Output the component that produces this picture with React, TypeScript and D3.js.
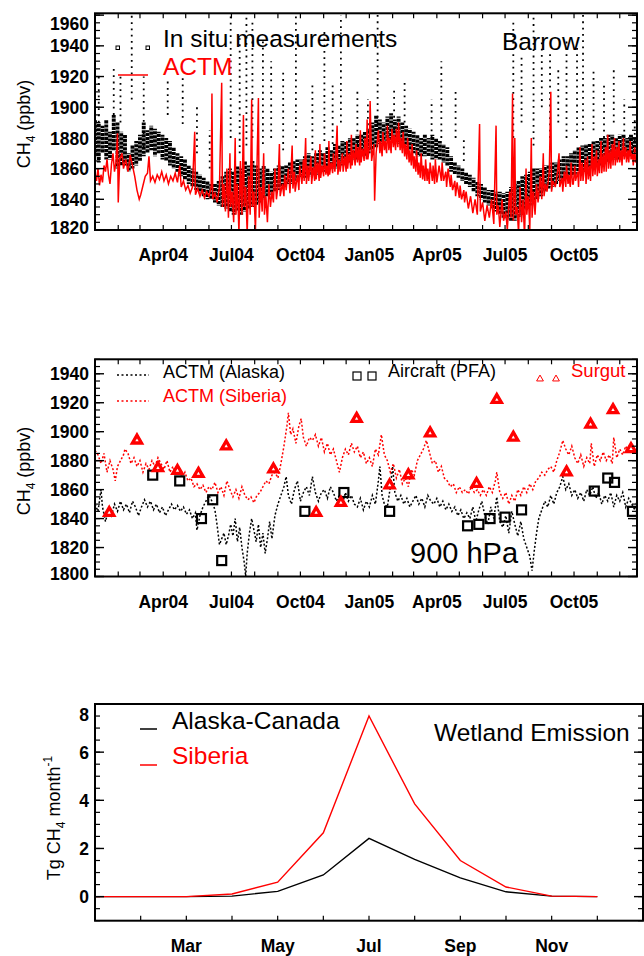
import React from 'react';
import * as d3 from 'd3';

const FONT = '"Liberation Sans", Arial, Helvetica, sans-serif';
const START = new Date(Date.UTC(2004, 0, 1));
const END = new Date(Date.UTC(2005, 11, 24));

// ---- panel 1: Barrow, days since 1 Jan 2004
const barrowActm: [number, number][] = [
  [0,1857],[2,1852],[4,1860],[6,1849],[8,1856],[10,1851],[12,1862],[14,1858],[16,1866],[18,1856],[20,1850],[22,1863],[24,1870],[26,1858],[28,1864],[30,1883],[31,1838],[33,1866],[36,1870],[38,1860],[41,1866],[44,1858],[47,1869],[50,1862],[53,1855],[56,1846],[59,1840],[61,1843],[64,1849],[67,1855],[70,1857],[72,1868],[74,1852],[77,1855],[80,1851],[83,1856],[86,1853],[89,1858],[92,1852],[95,1856],[98,1850],[101,1855],[104,1852],[107,1857],[110,1851],[113,1862],[115,1848],[118,1852],[121,1846],[124,1849],[127,1844],[130,1848],[133,1884],[134,1843],[137,1847],[140,1842],[143,1846],[146,1841],[149,1845],[152,1842],[155,1848],[156,1909],[157,1840],[160,1844],[163,1838],[166,1848],[169,1916],[170,1835],[172,1850],[174,1832],[176,1860],[178,1828],[180,1870],[181,1835],[183,1845],[185,1825],[187,1880],[188,1830],[190,1850],[192,1818],[194,1865],[196,1830],[198,1895],[199,1835],[201,1848],[203,1818],[205,1855],[207,1830],[209,1905],[210,1835],[212,1845],[214,1820],[216,1860],[218,1906],[219,1828],[221,1848],[223,1832],[225,1870],[226,1830],[228,1842],[230,1825],[232,1850],[234,1835],[236,1845],[238,1838],[240,1860],[242,1840],[244,1848],[246,1876],[247,1842],
  [250,1850],[252,1842],[253,1856],[255,1846],[258,1860],[260,1844],[261,1853],[263,1875],[264,1847],[266,1858],[267,1845],[270,1856],[272,1846],[273,1862],[276,1850],[278,1866],[279,1852],[281,1880],[282,1850],[284,1862],[285,1852],[288,1868],[289,1850],[291,1861],[293,1852],[294,1872],[295,1853],[297,1864],[299,1852],[300,1876],[301,1854],[303,1862],[305,1855],[306,1870],[308,1856],[309,1862],[311,1855],[312,1878],[313,1856],[315,1864],[317,1857],[318,1870],[320,1858],[321,1866],[323,1888],[324,1856],[326,1866],[327,1858],[330,1870],[331,1858],[333,1868],[335,1858],[336,1878],[337,1860],[339,1870],[341,1860],[342,1882],[343,1862],[345,1872],[347,1862],[348,1876],[350,1864],[351,1874],[353,1862],[354,1885],[355,1864],[357,1873],[359,1865],[360,1880],[362,1866],[363,1892],[364,1866],[366,1874],
  [367,1904],[369,1865],[372,1876],[373,1839],[375,1870],[378,1885],[380,1870],[381,1878],[383,1868],[384,1884],[386,1872],[387,1878],[389,1870],[390,1888],[392,1872],[393,1880],[395,1870],[396,1886],[398,1874],[399,1882],[401,1872],[402,1886],[404,1874],[405,1890],[407,1872],[408,1880],[410,1870],[411,1884],[413,1868],[414,1876],[416,1866],[417,1880],[419,1864],[420,1872],[422,1862],[423,1876],[425,1860],[426,1868],[428,1858],[429,1872],[431,1856],[432,1864],[434,1854],[435,1870],[437,1853],[438,1862],[440,1852],[441,1866],[443,1852],[444,1860],[446,1850],[447,1864],[450,1852],[451,1862],[453,1850],[454,1866],[456,1851],[459,1862],[462,1852],[463,1864],[465,1852],[468,1858],[469,1848],[471,1860],[474,1848],[475,1856],[477,1846],[480,1852],[481,1842],[483,1851],[486,1841],[487,1849],[489,1840],[492,1846],[493,1838],[495,1845],[498,1834],[501,1842],[504,1831],[507,1840],[510,1830],[513,1889],[514,1832],[517,1838],[520,1826],[523,1836],[526,1828],[529,1840],[532,1824],[535,1888],[536,1830],[538,1836],[540,1822],[543,1840],[545,1826],[548,1832],[550,1820],[553,1845],[555,1828],[557,1909],[558,1826],[560,1880],[561,1830],[563,1835],[565,1818],[567,1848],[569,1825],[571,1840],[573,1815],[575,1860],[576,1830],[578,1842],[580,1820],[582,1880],[583,1828],[585,1845],[587,1830],[589,1850],[591,1838],[594,1855],[596,1840],[598,1870],[599,1842],[601,1850],[603,1845],[606,1858],[608,1910],[609,1845],[611,1852],[614,1848],[617,1858],[619,1870],[620,1848],[623,1854],[624,1845],[626,1858],[628,1848],[629,1862],[631,1850],[632,1856],[634,1848],[635,1864],[637,1850],
  [638,1850],[640,1862],[641,1852],[644,1858],[645,1848],[647,1874],[648,1852],[650,1864],[651,1852],[654,1866],[655,1850],[657,1868],[658,1853],[660,1862],[661,1852],[663,1876],[664,1855],[666,1868],[667,1856],[669,1872],[670,1855],[672,1866],[673,1857],[675,1878],[676,1857],[678,1870],[679,1858],[681,1874],[682,1858],[684,1882],[685,1860],[687,1872],[688,1860],[690,1876],[691,1862],[693,1880],[694,1862],[696,1874],[697,1864],[699,1878],[700,1864],[702,1872],[703,1862],[705,1880],[706,1866],[708,1874],[709,1864],[711,1872],[712,1864],[714,1878],[715,1866],[717,1870],[718,1862],[720,1874],[721,1864],[723,1868],
];

// dense part of the hourly in situ record: [day, low, high]
const insituBand: [number, number, number][] = [
  [0,1868,1892],[5,1864,1890],[10,1870,1888],[15,1866,1892],[20,1866,1884],[25,1872,1895],[30,1860,1890],[35,1862,1884],[40,1862,1882],[45,1858,1870],[50,1860,1875],[55,1862,1878],
  [60,1865,1882],[65,1868,1890],[70,1870,1885],[75,1872,1888],[80,1868,1886],[85,1870,1884],[90,1866,1882],[95,1865,1880],[100,1862,1878],[105,1860,1874],[110,1858,1870],[115,1855,1868],
  [120,1853,1866],[125,1850,1862],[130,1848,1860],[135,1846,1858],[140,1844,1856],[145,1842,1854],[150,1840,1852],[155,1840,1850],[160,1838,1850],[165,1836,1852],[170,1835,1855],[175,1834,1858],
  [180,1832,1860],[185,1830,1858],[190,1832,1862],[195,1830,1860],[200,1832,1865],[205,1834,1862],[210,1835,1865],[215,1836,1862],[220,1838,1860],[225,1840,1862],[230,1842,1860],[235,1843,1858],
  [240,1845,1860],[245,1846,1862],[250,1848,1862],[255,1850,1862],[260,1850,1864],[265,1852,1865],[270,1852,1866],[275,1854,1866],[280,1854,1868],[285,1855,1870],[290,1856,1868],[295,1856,1870],
  [300,1857,1872],[305,1858,1870],[310,1858,1874],[315,1860,1872],[320,1860,1876],[325,1862,1875],[330,1862,1878],[335,1864,1878],[340,1864,1880],[345,1866,1880],[350,1866,1882],[355,1868,1882],
  [360,1868,1884],[365,1870,1886],[370,1872,1890],[375,1874,1895],[380,1876,1892],[385,1876,1890],[390,1878,1894],[395,1878,1896],[400,1878,1892],[405,1876,1894],[410,1875,1890],[415,1874,1888],
  [420,1872,1886],[425,1870,1884],[430,1868,1882],[435,1868,1880],[440,1868,1882],[445,1868,1880],[450,1866,1882],[455,1866,1880],[460,1866,1878],[465,1864,1876],[470,1862,1874],[475,1858,1868],
  [480,1856,1864],[485,1854,1862],[490,1852,1860],[495,1850,1858],[500,1848,1856],[505,1845,1854],[510,1842,1852],[515,1840,1850],[520,1838,1848],[525,1836,1846],[530,1834,1846],[535,1832,1845],
  [540,1830,1845],[545,1828,1844],[550,1827,1845],[555,1826,1848],[560,1826,1850],[565,1828,1852],[570,1830,1855],[575,1833,1856],[580,1836,1858],[585,1838,1860],[590,1840,1860],[595,1842,1860],
  [600,1845,1862],[605,1847,1862],[610,1848,1864],[615,1850,1864],[620,1852,1866],[625,1853,1868],[630,1854,1868],[635,1855,1870],[640,1856,1872],[645,1857,1874],[650,1858,1875],[655,1858,1876],
  [660,1860,1876],[665,1860,1878],[670,1862,1878],[675,1862,1880],[680,1864,1880],[685,1864,1882],[690,1866,1882],[695,1866,1880],[700,1866,1882],[705,1868,1882],[710,1868,1880],[715,1868,1882],[720,1870,1880],
];

// sparse high excursions of the in situ record: [day, low, high]
const insituSpread: [number, number, number][] = [
  [5,1890,1922],[25,1895,1925],[34,1890,1920],[49,1905,1965],[65,1870,1920],[97,1895,1918],[117,1889,1920],[136,1870,1900],[153,1860,1885],
  [181,1880,1965],[193,1870,1945],[202,1875,1962],[210,1880,1955],[224,1876,1945],[235,1880,1930],[251,1872,1925],[268,1880,1960],[290,1872,1915],
  [306,1878,1950],[317,1876,1915],[328,1890,1960],[350,1876,1912],[364,1876,1905],[377,1885,1965],[399,1885,1912],[413,1890,1918],[449,1872,1905],
  [462,1880,1930],[481,1880,1912],[492,1865,1880],[558,1880,1955],[569,1890,1935],[585,1875,1960],[596,1900,1945],[607,1880,1935],[618,1890,1925],
  [629,1880,1945],[643,1880,1940],[651,1885,1962],[665,1885,1925],[679,1880,1915],[692,1890,1925],[706,1880,1905],[720,1878,1892],
];

const topTicks = [1820, 1840, 1860, 1880, 1900, 1920, 1940, 1960];
const timeTickLabels = ['Apr04', 'Jul04', 'Oct04', 'Jan05', 'Apr05', 'Jul05', 'Oct05'];

// ---- panel 2: 900 hPa
const actmAlaska: [number, number][] = [
  [0,1850],[4,1845],[8,1860],[10,1848],[14,1838],[18,1846],[22,1842],[26,1850],[30,1845],[34,1852],[38,1846],[42,1850],[46,1844],[50,1852],[54,1848],[58,1842],[62,1848],[66,1853],[70,1848],[74,1852],[78,1846],[82,1850],[86,1844],[90,1848],[94,1842],[98,1846],[102,1850],[106,1846],[110,1849],[114,1845],[118,1848],[122,1843],[126,1846],[130,1840],[134,1844],[136,1832],[140,1842],[144,1848],[148,1852],[152,1856],[156,1852],[160,1846],[163,1835],[166,1822],[169,1826],[172,1830],[175,1822],[178,1828],[181,1836],[184,1828],[187,1840],[190,1824],[193,1834],[196,1820],[199,1810],[201,1800],[203,1816],[206,1830],[209,1840],[212,1832],[215,1824],[218,1836],[221,1820],[224,1830],[227,1816],[230,1826],[233,1838],[236,1826],[240,1842],[244,1850],[248,1856],[252,1862],[255,1869],[258,1856],[262,1850],[266,1860],[270,1866],[274,1852],[278,1858],[282,1862],[286,1856],[290,1869],[294,1858],[298,1852],[302,1858],[306,1860],[310,1854],[314,1862],[318,1858],[322,1852],[326,1856],[330,1850],[334,1858],[338,1852],[342,1856],[346,1850],[350,1848],[354,1854],[358,1846],[362,1852],[366,1848],[370,1856],[374,1850],[378,1866],[380,1876],[383,1856],[386,1850],[390,1848],[394,1862],[397,1876],[400,1858],[404,1852],[408,1856],[412,1850],[416,1854],[420,1848],[424,1852],[428,1856],[432,1850],[436,1854],[440,1848],[444,1856],[448,1852],[452,1850],[456,1854],[460,1848],[464,1852],[468,1846],[472,1850],[476,1845],[480,1848],[484,1842],[488,1846],[492,1840],[496,1844],[500,1840],[504,1848],[508,1838],[512,1846],[516,1852],[520,1842],[524,1836],[528,1848],[532,1840],[536,1855],[540,1838],[544,1834],[548,1842],[552,1830],[556,1845],[560,1836],[564,1828],[568,1838],[572,1826],[576,1820],[580,1814],[583,1804],[586,1818],[589,1830],[592,1840],[596,1846],[600,1852],[604,1848],[608,1856],[612,1850],[616,1858],[620,1862],[624,1869],[628,1860],[632,1864],[636,1856],[640,1860],[644,1854],[648,1858],[652,1852],[656,1860],[660,1856],[664,1862],[668,1854],[672,1858],[676,1850],[680,1856],[684,1852],[688,1858],[692,1848],[696,1856],[700,1852],[704,1858],[708,1848],[712,1854],[716,1850],[720,1846],[723,1852],
];
const actmSiberia: [number, number][] = [
  [0,1887],[4,1884],[8,1878],[12,1885],[16,1872],[20,1880],[24,1874],[27,1866],[30,1876],[34,1880],[38,1884],[40,1888],[44,1885],[48,1878],[52,1882],[56,1876],[60,1880],[64,1872],[68,1878],[72,1874],[76,1880],[80,1876],[84,1882],[88,1878],[92,1874],[96,1880],[100,1872],[104,1876],[108,1870],[112,1874],[116,1868],[120,1872],[124,1866],[128,1868],[132,1862],[136,1864],[140,1860],[144,1863],[148,1858],[152,1862],[156,1860],[160,1865],[164,1858],[168,1862],[172,1856],[176,1866],[180,1860],[184,1855],[188,1860],[192,1854],[196,1862],[200,1856],[204,1853],[208,1855],[212,1851],[216,1856],[220,1858],[224,1862],[228,1866],[232,1864],[236,1870],[240,1872],[244,1868],[248,1878],[252,1890],[256,1904],[258,1913],[261,1898],[264,1902],[268,1892],[272,1904],[275,1909],[278,1896],[282,1890],[286,1896],[290,1894],[294,1898],[298,1890],[302,1896],[306,1886],[310,1892],[314,1884],[318,1888],[322,1880],[326,1872],[330,1882],[334,1888],[338,1884],[342,1892],[346,1886],[350,1890],[354,1882],[358,1886],[362,1878],[366,1882],[370,1876],[374,1888],[378,1884],[382,1898],[386,1884],[390,1880],[394,1872],[398,1878],[402,1868],[406,1874],[410,1864],[414,1868],[418,1862],[422,1874],[426,1870],[430,1880],[434,1884],[438,1888],[442,1894],[446,1886],[450,1878],[454,1880],[458,1872],[462,1876],[466,1868],[470,1866],[474,1862],[478,1864],[482,1858],[486,1862],[490,1858],[494,1860],[498,1857],[502,1862],[506,1858],[510,1860],[514,1856],[518,1860],[522,1856],[526,1862],[530,1858],[534,1866],[536,1872],[540,1858],[544,1854],[548,1858],[552,1850],[556,1856],[560,1852],[564,1860],[568,1856],[572,1862],[576,1858],[580,1864],[584,1860],[588,1866],[592,1868],[596,1872],[600,1870],[604,1874],[608,1876],[612,1872],[616,1880],[620,1886],[624,1894],[628,1888],[632,1884],[636,1890],[640,1882],[644,1878],[648,1884],[652,1876],[656,1882],[660,1878],[662,1892],[666,1876],[670,1884],[674,1880],[678,1886],[682,1880],[686,1884],[690,1878],[692,1896],[696,1882],[700,1888],[704,1884],[708,1890],[712,1886],[716,1892],[720,1888],[723,1890],
];
const aircraftPfa: [number, number][] = [
  [77,1870],[113,1866],[142,1840],[157,1853],[169,1811],[280,1845],[332,1858],[393,1845],[497,1835],[512,1836],[527,1840],[547,1841],[569,1846],[666,1859],[684,1868],[693,1865],[717,1845],
];
const surgut: [number, number][] = [
  [19,1844],[56,1894],[84,1875],[110,1873],[138,1871],[175,1890],[238,1874],[295,1844],[328,1851],[349,1909],[393,1863],[418,1870],[447,1899],[509,1864],[536,1922],[558,1896],[629,1872],[661,1905],[691,1915],[715,1888],
];
const midTicks = [1800, 1820, 1840, 1860, 1880, 1900, 1920, 1940];

// ---- panel 3: wetland emission, month index 1..12
const months = [1, 2, 3, 4, 5, 6, 7, 8, 9, 10, 11, 12];
const emisAlaskaCanada = [0, 0, 0, 0.02, 0.22, 0.9, 2.42, 1.55, 0.78, 0.2, 0.02, 0];
const emisSiberia = [0, 0, 0, 0.11, 0.6, 2.65, 7.5, 3.85, 1.5, 0.4, 0.02, 0];
const emisTicks = [0, 2, 4, 6, 8];
const monthLabels = ['Mar', 'May', 'Jul', 'Sep', 'Nov'];

const dayDate = (d: number) => d3.utcDay.offset(START, d);
const parseTick = d3.utcParse('%b%y');

const xT = d3.scaleUtc().domain([START, END]).range([95, 637]);
const monthTicks = d3.utcMonth.range(d3.utcMonth.offset(START, 1), END);

type Box = { x0: number; x1: number; y0: number; y1: number };

function YTicks({ box, y, major, minor, clampTop = 10, clampBot = 3 }: any) {
  const { x0, x1, y0, y1 } = box as Box;
  return (
    <g>
      {minor.map((v: number) => (
        <g key={'m' + v} stroke="#000" strokeWidth={1.2}>
          <line x1={x0} x2={x0 + 5} y1={y(v)} y2={y(v)} />
          <line x1={x1} x2={x1 - 5} y1={y(v)} y2={y(v)} />
        </g>
      ))}
      {major.map((v: number) => (
        <g key={'M' + v}>
          <line x1={x0} x2={x0 + 9} y1={y(v)} y2={y(v)} stroke="#000" strokeWidth={1.4} />
          <line x1={x1} x2={x1 - 9} y1={y(v)} y2={y(v)} stroke="#000" strokeWidth={1.4} />
          <text x={x0 - 6} y={Math.min(Math.max(y(v), y0 + clampTop), y1 - clampBot)} dy="0.38em"
            textAnchor="end" fontFamily={FONT} fontWeight="bold" fontSize={17.5}>{v}</text>
        </g>
      ))}
    </g>
  );
}

function TimeAxis({ box }: { box: Box }) {
  const { y0, y1 } = box;
  return (
    <g>
      {monthTicks.map((m, i) => (
        <g key={i} stroke="#000" strokeWidth={1.2}>
          <line x1={xT(m)} x2={xT(m)} y1={y1} y2={y1 - 5} />
          <line x1={xT(m)} x2={xT(m)} y1={y0} y2={y0 + 5} />
        </g>
      ))}
      {timeTickLabels.map((s) => (
        <text key={s} x={xT(parseTick(s) as Date)} y={y1 + 31} textAnchor="middle"
          fontFamily={FONT} fontWeight="bold" fontSize={17.5}>{s}</text>
      ))}
    </g>
  );
}

function YTitle({ x, y, children }: any) {
  return (
    <text transform={`translate(${x},${y}) rotate(-90)`} textAnchor="middle" fontFamily={FONT} fontSize={18}>
      {children}
    </text>
  );
}

function BarrowPanel() {
  const box: Box = { x0: 95, x1: 637, y0: 13.3, y1: 230 };
  const y = d3.scaleLinear().domain([1820, 1961.2]).range([box.y1, box.y0]);
  const line = d3.line<[number, number]>().x((d) => xT(dayDate(d[0]))).y((d) => y(d[1]));
  return (
    <g>
      <clipPath id="clipA"><rect x={box.x0} y={box.y0} width={box.x1 - box.x0} height={box.y1 - box.y0} /></clipPath>
      <g clipPath="url(#clipA)">
        {insituSpread.map(([d, lo, hi], i) => (
          <line key={'s' + i} x1={xT(dayDate(d))} x2={xT(dayDate(d))} y1={y(lo)} y2={y(hi)}
            stroke="#000" strokeWidth={1.8} strokeDasharray="1.8,4.5" />
        ))}
        {insituBand.map(([d, lo, hi], i) => (
          <line key={'b' + i} x1={xT(dayDate(d))} x2={xT(dayDate(d))} y1={y(lo)} y2={y(hi)}
            stroke="#000" strokeWidth={3.9} strokeDasharray="3.2,0.9" strokeDashoffset={(i * 1.7) % 4.1} />
        ))}
        <path d={line(barrowActm) || ''} fill="none" stroke="#ff0000" strokeWidth={1.5} />
      </g>
      <rect x={box.x0} y={box.y0} width={box.x1 - box.x0} height={box.y1 - box.y0} fill="none" stroke="#000" strokeWidth={2} />
      <YTicks box={box} y={y} major={topTicks} minor={d3.range(1820, 1961, 5)} />
      <TimeAxis box={box} />
      <YTitle x={30} y={124}>CH<tspan fontSize={12} dy={5}>4</tspan><tspan dy={-5}> (ppbv)</tspan></YTitle>
      <rect x={116} y={46} width={3.5} height={3.5} fill="none" stroke="#000" strokeWidth={1} />
      <rect x={146} y={46} width={3.5} height={3.5} fill="none" stroke="#000" strokeWidth={1} />
      <text x={163} y={47} fontFamily={FONT} fontSize={24.5}>In situ measurements</text>
      <text x={502} y={50} fontFamily={FONT} fontSize={24.5}>Barrow</text>
      <line x1={118} x2={148} y1={75} y2={75} stroke="#ff0000" strokeWidth={1.5} />
      <text x={163} y={75} fontFamily={FONT} fontSize={24.5} fill="#ff0000">ACTM</text>
    </g>
  );
}

function MidPanel() {
  const box: Box = { x0: 95, x1: 637, y0: 359.3, y1: 576.5 };
  const y = d3.scaleLinear().domain([1800, 1950]).range([box.y1, box.y0]);
  const line = d3.line<[number, number]>().x((d) => xT(dayDate(d[0]))).y((d) => y(d[1]));
  const tri = d3.symbol().type(d3.symbolTriangle).size(64)() || '';
  const triInner = d3.symbol().type(d3.symbolTriangle).size(5)() || '';
  const triSmall = d3.symbol().type(d3.symbolTriangle).size(20)() || '';
  return (
    <g>
      <clipPath id="clipB"><rect x={box.x0} y={box.y0} width={box.x1 - box.x0} height={box.y1 - box.y0} /></clipPath>
      <g clipPath="url(#clipB)">
        <path d={line(actmAlaska) || ''} fill="none" stroke="#000" strokeWidth={1.5} strokeDasharray="2,2" />
        <path d={line(actmSiberia) || ''} fill="none" stroke="#ff0000" strokeWidth={1.5} strokeDasharray="2,2" />
        {aircraftPfa.map(([d, v], i) => (
          <rect key={'a' + i} x={xT(dayDate(d)) - 4.5} y={y(v) - 4.5} width={9} height={9}
            fill="none" stroke="#000" strokeWidth={2.2} />
        ))}
        {surgut.map(([d, v], i) => (
          <g key={'t' + i} transform={`translate(${xT(dayDate(d))},${y(v)})`}>
            <path d={tri} fill="#ff0000" stroke="#ff0000" strokeWidth={1.5} />
            <path d={triInner} fill="#fff" />
          </g>
        ))}
      </g>
      <rect x={box.x0} y={box.y0} width={box.x1 - box.x0} height={box.y1 - box.y0} fill="none" stroke="#000" strokeWidth={2} />
      <YTicks box={box} y={y} major={midTicks} minor={d3.range(1800, 1951, 5)} />
      <TimeAxis box={box} />
      <YTitle x={30} y={471}>CH<tspan fontSize={12} dy={5}>4</tspan><tspan dy={-5}> (ppbv)</tspan></YTitle>
      <line x1={117} x2={149} y1={375} y2={375} stroke="#000" strokeWidth={1.5} strokeDasharray="2,2.5" />
      <text x={163} y={378} fontFamily={FONT} fontSize={18}>ACTM (Alaska)</text>
      <line x1={117} x2={149} y1={401} y2={401} stroke="#ff0000" strokeWidth={1.5} strokeDasharray="2,2.5" />
      <text x={163} y={402} fontFamily={FONT} fontSize={18} fill="#ff0000">ACTM (Siberia)</text>
      <rect x={353} y={372} width={8} height={8} fill="none" stroke="#000" strokeWidth={1.2} />
      <rect x={368} y={372} width={8} height={8} fill="none" stroke="#000" strokeWidth={1.2} />
      <text x={388} y={377} fontFamily={FONT} fontSize={18}>Aircraft (PFA)</text>
      <path d={triSmall} transform="translate(540,379)" fill="none" stroke="#ff0000" strokeWidth={1} />
      <path d={triSmall} transform="translate(556,379)" fill="none" stroke="#ff0000" strokeWidth={1} />
      <text x={571} y={377} fontFamily={FONT} fontSize={18.5} fill="#ff0000">Surgut</text>
      <text x={410} y={563} fontFamily={FONT} fontSize={29}>900 hPa</text>
    </g>
  );
}

function EmissionPanel() {
  const box: Box = { x0: 95, x1: 643, y0: 704, y1: 920.7 };
  const x = d3.scaleLinear().domain([1, 13]).range([box.x0, box.x1]);
  const y = d3.scaleLinear().domain([-1, 8]).range([box.y1, box.y0]);
  const line = d3.line<number>().x((_, i) => x(months[i])).y((d) => y(d));
  return (
    <g>
      <path d={line(emisAlaskaCanada) || ''} fill="none" stroke="#000" strokeWidth={1.4} />
      <path d={line(emisSiberia) || ''} fill="none" stroke="#ff0000" strokeWidth={1.4} />
      <rect x={box.x0} y={box.y0} width={box.x1 - box.x0} height={box.y1 - box.y0} fill="none" stroke="#000" strokeWidth={2} />
      <YTicks box={box} y={y} major={emisTicks} minor={d3.range(-1, 8.01, 0.5)} clampTop={10} clampBot={0} />
      {d3.range(2, 13).map((m) => (
        <line key={m} x1={x(m)} x2={x(m)} y1={box.y1} y2={box.y1 - 5} stroke="#000" strokeWidth={1.2} />
      ))}
      {monthLabels.map((s, i) => (
        <text key={s} x={x(3 + 2 * i)} y={box.y1 + 31} textAnchor="middle" fontFamily={FONT}
          fontWeight="bold" fontSize={17.5}>{s}</text>
      ))}
      <YTitle x={60} y={818}>
        Tg CH<tspan fontSize={12} dy={5}>4</tspan><tspan dy={-5}> month</tspan><tspan fontSize={12} dy={-8}>-1</tspan>
      </YTitle>
      <line x1={140} x2={157} y1={729} y2={729} stroke="#000" strokeWidth={1.5} />
      <text x={172} y={729} fontFamily={FONT} fontSize={24.5}>Alaska-Canada</text>
      <line x1={140} x2={157} y1={765} y2={765} stroke="#ff0000" strokeWidth={1.5} />
      <text x={172} y={764} fontFamily={FONT} fontSize={24.5} fill="#ff0000">Siberia</text>
      <text x={434} y={741} fontFamily={FONT} fontSize={24.5}>Wetland Emission</text>
    </g>
  );
}

export default function App() {
  return (
    <svg width={644} height={956} style={{ position: 'absolute', left: 0, top: 0, background: '#fff' }}>
      <rect width={644} height={956} fill="#fff" />
      <BarrowPanel />
      <MidPanel />
      <EmissionPanel />
    </svg>
  );
}
